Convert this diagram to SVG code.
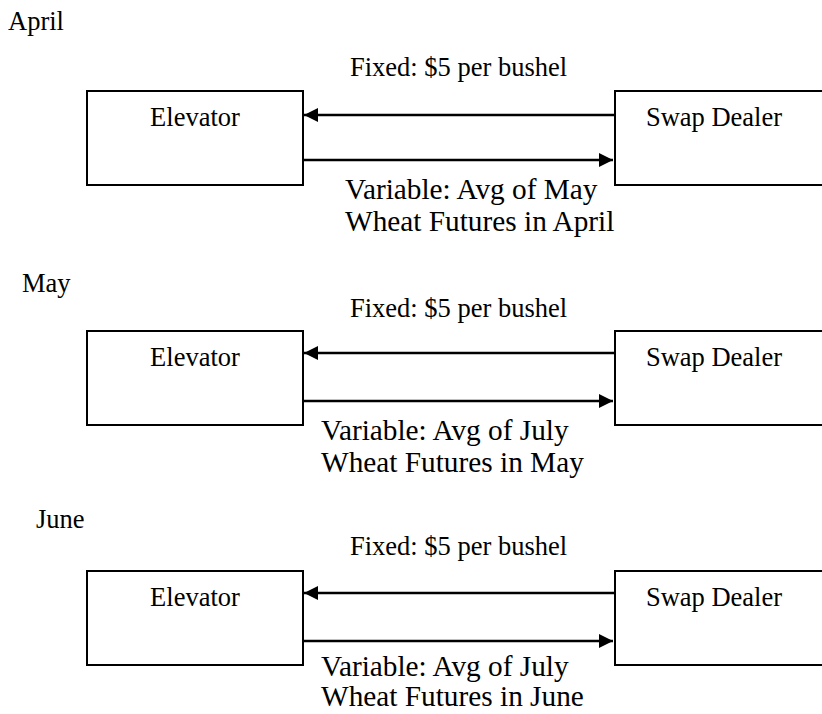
<svg xmlns="http://www.w3.org/2000/svg" width="822" height="714" viewBox="0 0 822 714">
<style>
text{font-family:"Liberation Serif","Times New Roman",serif;fill:#000}
.t{font-size:26.5px}
.v{font-size:29.3px}
.box{fill:#fff;stroke:#000;stroke-width:2}
.ar{stroke:#000;stroke-width:2.5;fill:none}
</style>
<defs>
<marker id="ah" markerWidth="14" markerHeight="14" refX="12" refY="6" orient="auto" markerUnits="userSpaceOnUse" viewBox="0 0 12 12">
<path d="M0,0 L12,6 L0,12 Z" fill="#000"/>
</marker>
</defs>
<rect width="822" height="714" fill="#fff"/>
<text class="t" x="8" y="30">April</text>
<text class="t" x="22" y="292">May</text>
<text class="t" x="36" y="528">June</text>
<g id="connectors">
<line class="ar" x1="614" y1="115" x2="304" y2="115" marker-end="url(#ah)"/>
<line class="ar" x1="303" y1="160" x2="613" y2="160" marker-end="url(#ah)"/>
<line class="ar" x1="614" y1="353" x2="304" y2="353" marker-end="url(#ah)"/>
<line class="ar" x1="303" y1="401" x2="613" y2="401" marker-end="url(#ah)"/>
<line class="ar" x1="614" y1="593" x2="304" y2="593" marker-end="url(#ah)"/>
<line class="ar" x1="303" y1="641" x2="613" y2="641" marker-end="url(#ah)"/>
<text class="t" x="350" y="76">Fixed: $5 per bushel</text>
<text class="v" x="345" y="199">Variable: Avg of May</text>
<text class="v" x="345" y="231">Wheat Futures in April</text>
<text class="t" x="350" y="317">Fixed: $5 per bushel</text>
<text class="v" x="321" y="440">Variable: Avg of July</text>
<text class="v" x="321" y="472">Wheat Futures in May</text>
<text class="t" x="350" y="555">Fixed: $5 per bushel</text>
<text class="v" x="321" y="676">Variable: Avg of July</text>
<text class="v" x="321" y="706">Wheat Futures in June</text>
</g>
<g id="elevator-april"><rect class="box" x="87" y="91" width="216" height="94"/><text class="t" x="195" y="126" text-anchor="middle">Elevator</text></g>
<g id="swap-april"><rect class="box" x="615" y="91" width="220" height="94"/><text class="t" x="714" y="126" text-anchor="middle">Swap Dealer</text></g>
<g id="elevator-may"><rect class="box" x="87" y="331" width="216" height="94"/><text class="t" x="195" y="366" text-anchor="middle">Elevator</text></g>
<g id="swap-may"><rect class="box" x="615" y="331" width="220" height="94"/><text class="t" x="714" y="366" text-anchor="middle">Swap Dealer</text></g>
<g id="elevator-june"><rect class="box" x="87" y="571" width="216" height="94"/><text class="t" x="195" y="606" text-anchor="middle">Elevator</text></g>
<g id="swap-june"><rect class="box" x="615" y="571" width="220" height="94"/><text class="t" x="714" y="606" text-anchor="middle">Swap Dealer</text></g>
</svg>
